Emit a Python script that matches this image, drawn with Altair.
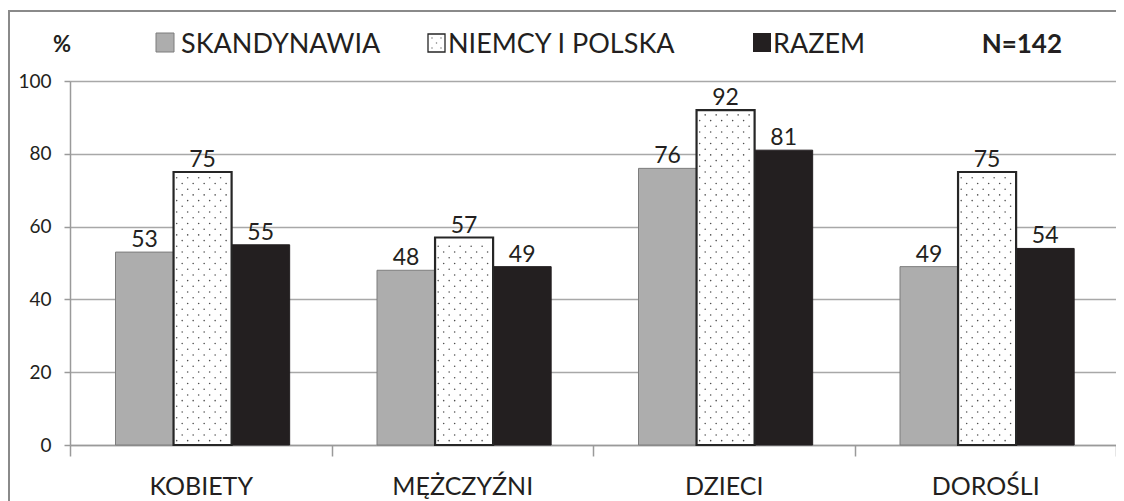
import json
import altair as alt
import pandas as pd

categories = ["KOBIETY", "MĘŻCZYŹNI", "DZIECI", "DOROŚLI"]
series = ["SKANDYNAWIA", "NIEMCY I POLSKA", "RAZEM"]
skandynawia = [53, 48, 76, 49]
niemcy_polska = [75, 57, 92, 75]
razem = [55, 49, 81, 54]
y_ticks = [0, 20, 40, 60, 80, 100]
n_label = "N=142"
unit_label = "%"

FONT = "Lato"
TXT = "#231f20"
W = 0.222        # bar width (category units)
CENTER = 0.507   # group centre inside category

rows = []
for ci, cat in enumerate(categories):
    for si, vals in enumerate([skandynawia, niemcy_polska, razem]):
        rows.append(dict(cat=cat, ci=ci, series=series[si], si=si, value=vals[ci]))
df = pd.DataFrame(rows)

# dot pattern for the dotted series, built from its values
dot_rows = []
for ci, v in enumerate(niemcy_polska):
    x0 = ci + CENTER - 0.5 * W
    r = 0
    y = 1.2
    while y < v - 0.9:
        c = x0 + (0.012 if r % 2 == 0 else 0.033)
        while c < x0 + W - 0.008:
            dot_rows.append(dict(xd=c, yd=y))
            c += 0.042
        y += 1.57
        r += 1
dots = pd.DataFrame(dot_rows)

label_expr = "datum.value < %d ? %s[datum.value] : ''" % (
    len(categories), json.dumps(categories, ensure_ascii=False))

xscale = alt.Scale(domain=[0, len(categories)], nice=False, zero=False)
yscale = alt.Scale(domain=[0, 100], nice=False)

base = alt.Chart(df).transform_calculate(
    x0=f"datum.ci + {CENTER} + (datum.si - 1.5) * {W}",
    x1=f"datum.ci + {CENTER} + (datum.si - 0.5) * {W}",
    xc=f"datum.ci + {CENTER} + (datum.si - 1) * {W}",
)

x_axis = alt.Axis(
    values=list(range(len(categories) + 1)), labelExpr=label_expr,
    labelOffset=130.75, labelFlush=False, labelAlign="center",
    labelFontSize=25, labelFont=FONT, labelColor=TXT,
    labelBaseline="alphabetic", labelPadding=38, tickSize=11, tickColor="#9a9a9a",
    tickWidth=1.5, domainColor="#9a9a9a", domainWidth=1.5, grid=False, title=None,
)
y_axis = alt.Axis(
    values=y_ticks, labelFontSize=19, labelFont=FONT, labelColor=TXT,
    labelPadding=13, tickSize=6, tickColor="#9a9a9a", tickWidth=1.5,
    domainColor="#9a9a9a", domainWidth=1.5, grid=True, gridColor="#a8a8a8",
    gridWidth=1.5, title=None,
)

side_bars = base.transform_filter("datum.si != 1").mark_rect().encode(
    x=alt.X("x0:Q", scale=xscale, axis=x_axis),
    x2="x1:Q",
    y=alt.Y("value:Q", scale=yscale, axis=y_axis),
    y2=alt.datum(0),
    color=alt.Color("series:N", scale=alt.Scale(domain=series, range=["#adadad", "#ffffff", "#231f20"]), legend=None),
    stroke=alt.Stroke("series:N", scale=alt.Scale(domain=series, range=["#7d7d7d", "#231f20", "#231f20"]), legend=None),
    strokeWidth=alt.value(1),
)

mid_bars = base.transform_filter("datum.si == 1").mark_rect(
    fill="#ffffff", stroke="#262626", strokeWidth=2.2).encode(
    x=alt.X("x0:Q", scale=xscale), x2="x1:Q",
    y=alt.Y("value:Q", scale=yscale), y2=alt.datum(0))

dot_layer = alt.Chart(dots).mark_circle(size=2.4, color="#444444", opacity=0.95).encode(
    x=alt.X("xd:Q", scale=xscale), y=alt.Y("yd:Q", scale=yscale))

values_text = base.mark_text(font=FONT, fontSize=23, color=TXT, baseline="alphabetic", dy=-5).encode(
    x=alt.X("xc:Q", scale=xscale), y=alt.Y("value:Q", scale=yscale), text="value:Q")

one = alt.Chart(pd.DataFrame({"a": [0]}))

border = one.mark_rect(fill="transparent", stroke="#8a8a8a", strokeWidth=2).encode(
    x=alt.value(-61), x2=alt.value(1200), y=alt.value(-70), y2=alt.value(600))

legend_dot_marks = [
    one.mark_circle(size=2.4, color="#444444").encode(x=alt.value(dx), y=alt.value(dy))
    for dx, dy in [(362, -43), (371, -43), (366.5, -38), (362, -33), (371, -33)]
]

legend_marks = [
    one.mark_text(font=FONT, fontSize=22, fontWeight="bold", color=TXT, baseline="alphabetic", align="center").encode(
        x=alt.value(-8), y=alt.value(-29), text=alt.value(unit_label)),
    one.mark_rect(fill="#adadad", stroke="#7d7d7d", strokeWidth=1).encode(
        x=alt.value(86), x2=alt.value(104), y=alt.value(-48), y2=alt.value(-29)),
    one.mark_text(font=FONT, fontSize=27, color=TXT, baseline="alphabetic", align="left").encode(
        x=alt.value(111), y=alt.value(-28), text=alt.value(series[0])),
    one.mark_rect(fill="#ffffff", stroke="#262626", strokeWidth=1.3).encode(
        x=alt.value(358), x2=alt.value(375), y=alt.value(-47), y2=alt.value(-29)),
    *legend_dot_marks,
    one.mark_text(font=FONT, fontSize=27, color=TXT, baseline="alphabetic", align="left").encode(
        x=alt.value(378), y=alt.value(-28), text=alt.value(series[1])),
    one.mark_rect(fill="#231f20").encode(
        x=alt.value(683), x2=alt.value(701), y=alt.value(-48), y2=alt.value(-29)),
    one.mark_text(font=FONT, fontSize=27, color=TXT, baseline="alphabetic", align="left").encode(
        x=alt.value(703), y=alt.value(-28), text=alt.value(series[2])),
    one.mark_text(font=FONT, fontSize=26, fontWeight="bold", color=TXT, baseline="alphabetic", align="right").encode(
        x=alt.value(992), y=alt.value(-28), text=alt.value(n_label)),
]

chart = alt.layer(
    border, side_bars, mid_bars, dot_layer, values_text, *legend_marks
).properties(
    width=1046, height=364,
    autosize=alt.AutoSizeParams(type="none"),
    padding={"left": 62, "top": 73, "right": 0, "bottom": 56},
).configure_view(stroke=None).configure(background="white")

chart.save("out.html", embed_options={"renderer": "svg", "actions": False})
